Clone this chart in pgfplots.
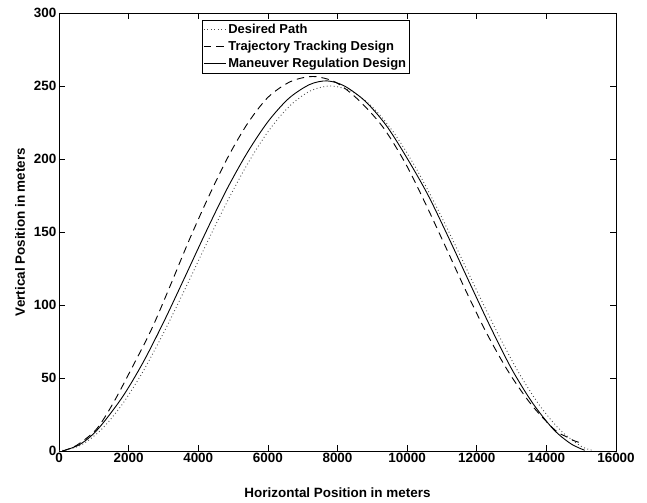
\documentclass[border=0pt]{standalone}
\usepackage{fontspec}
\setmainfont{Liberation Sans}
\usepackage{pgfplots}
\pgfplotsset{compat=1.18}
\begin{document}
\begin{tikzpicture}
\path[use as bounding box] (-59bp,-52bp) rectangle (588bp,451bp);
\begin{axis}[
  at={(0,0)}, anchor=south west,
  scale only axis,
  width=557bp, height=438bp,
  xmin=0, xmax=16000, ymin=0, ymax=300,
  xtick={0,2000,4000,6000,8000,10000,12000,14000,16000},
  ytick={0,50,100,150,200,250,300},
  scaled x ticks=false,
  /pgf/number format/1000 sep={},
  /pgf/number format/assume math mode=true,
  tick label style={font=\bfseries\fontsize{13.5}{15}\selectfont},
  xticklabel style={inner sep=2bp},
  yticklabel style={inner sep=2.5bp},
  xlabel={Horizontal Position in meters},
  ylabel={Vertical Position in meters},
  xlabel style={font=\bfseries\fontsize{13.5}{15}\selectfont, at={(axis description cs:0.5,-0.0959)}, anchor=center},
  ylabel style={font=\bfseries\fontsize{13.5}{15}\selectfont, at={(axis description cs:-0.0700,0.5)}, anchor=center, rotate=0},
  tick align=inside,
  major tick length=6bp,
  axis line style={line width=0.9pt},
  every tick/.style={black, line width=0.7pt},
  legend style={at={(0.257,0.984)}, anchor=north west, draw=black, line width=0.7pt,
    font=\bfseries\fontsize{13}{15}\selectfont, inner xsep=1pt, inner ysep=2.5pt, row sep=3pt,
    nodes={inner xsep=2pt, inner ysep=1.5pt},
    cells={anchor=west}},
  legend cell align=left,
  legend image code/.code={\draw[#1] (0bp,0bp) -- (22bp,0bp);},
]
\addplot[smooth, black!70, line width=0.9pt, dash pattern=on 0.9pt off 2.6pt] coordinates {
(0,0) (600,3.64) (1200,14.3) (1800,31.4) (2400,53.9) (3000,80.7) (3600,109.9)
(4200,140.1) (4800,169.3) (5400,196.0) (6000,218.6) (6600,235.7) (7200,246.4)
(7800,250) (8400,246.4) (9000,235.7) (9600,218.6) (10200,196.0) (10800,169.3)
(11400,140.1) (12000,109.9) (12600,80.7) (13200,53.9) (13800,31.4) (14400,14.3)
(15000,3.2) (15350,0.3)
};
\addlegendentry{Desired Path}
\addplot[smooth, black, line width=0.9pt, dash pattern=on 7.5bp off 5bp] coordinates {
(100,0) (500,3.8) (1070,14.8) (1550,32.5) (2070,55.8) (2660,83.5) (3200,113.5)
(3740,144.5) (4300,174.3) (4860,201.6) (5430,224.8) (6010,242.4) (6650,253)
(7300,256.5) (7950,252.5) (8600,240.5) (9300,222) (9940,197.5) (10520,169.8)
(11100,140.1) (11684,109.9) (12284,80.7) (12920,53.9) (13580,31.4) (14250,14.3)
(14600,9.5) (14800,7) (15000,5.5)
};
\addlegendentry{Trajectory Tracking Design}
\addplot[smooth, black, line width=0.9pt] coordinates {
(100,0) (600,4.5) (1100,14.5) (1800,36.2) (2400,60) (3000,88) (3600,118.3)
(4200,149) (4800,178.3) (5400,204) (6000,225.5) (6600,241.5) (7200,251)
(7700,253.5) (8200,250) (8800,239.5) (9400,223) (10000,200.5) (10600,175.3)
(11200,145.7) (11800,114.9) (12400,84.6) (13000,56.3) (13600,33.0) (14200,14.9)
(14700,5.0) (15100,0.5)
};
\addlegendentry{Maneuver Regulation Design}
\end{axis}
\end{tikzpicture}
\end{document}
